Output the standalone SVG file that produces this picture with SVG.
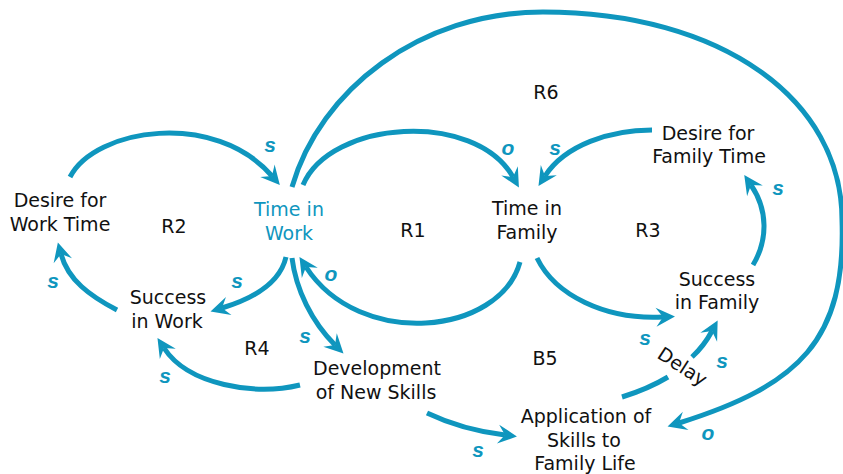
<svg xmlns="http://www.w3.org/2000/svg" width="843" height="474" viewBox="0 0 843 474">
  <style>
    .node text { font-family: "DejaVu Sans", "Liberation Sans", sans-serif; font-size: 19px; fill: #111; text-anchor: middle; }
    .node.accent text { fill: #0f96be; }
    .loop { font-family: "DejaVu Sans", "Liberation Sans", sans-serif; font-size: 19px; fill: #111; text-anchor: middle; }
    .pol { font-family: "Liberation Sans", "DejaVu Sans", sans-serif; font-size: 21px; font-weight: bold; font-style: italic; fill: #0f96be; text-anchor: middle; }
    .link { fill: none; stroke: #0f96be; stroke-width: 5; }
    .arrow { marker-end: url(#head); }
  </style>
  <defs>
    <!-- barbed arrowhead; reference point sits in the notch where the line stops -->
    <marker id="head" markerUnits="userSpaceOnUse" viewBox="-8 -10 22 20" markerWidth="22" markerHeight="20" refX="0" refY="0" orient="auto" overflow="visible">
      <path d="M12,0 L-7,-9.5 L0,0 L-7,9.5 Z" fill="#0f96be"/>
    </marker>
  </defs>
  <rect width="843" height="474" fill="#fff"/>

  <g id="connectors">
    <!-- R2 -->
    <path class="link arrow" d="M70,177 C95,128 215,110 272,176"/>
    <path class="link arrow" d="M117,310 C90,296 68,280 61,254"/>
    <path class="link arrow" d="M286,257 C280,283 255,298 222,308"/>
    <!-- R4 -->
    <path class="link arrow" d="M300,385 C255,396 188,385 164,348"/>
    <path class="link arrow" d="M292,258 C296,290 312,322 335,345"/>
    <!-- R1 -->
    <path class="link arrow" d="M520,262 C500,335 360,350 306,267"/>
    <path class="link arrow" d="M303,185 C330,120 475,110 513,177"/>
    <!-- R3 -->
    <path class="link arrow" d="M652,130 C610,130 565,145 545,176"/>
    <path class="link arrow" d="M753,265 C768,240 768,210 751,185"/>
    <path class="link arrow" d="M537,258 C555,295 605,320 663,317"/>
    <!-- B5, broken around the delay mark -->
    <path class="link" d="M622,397 Q648,389 668,377"/>
    <path class="link arrow" d="M692,357 Q704,346 712,331"/>
    <path class="link arrow" d="M427,413 C450,424 480,432 505,435"/>
    <!-- R6 -->
    <path class="link arrow" d="M292,187 C320,90 420,12 543,12 C722,12 842,100 842,220 C846,340 800,385 679,423"/>
  </g>

  <g id="polarities">
    <text class="pol" x="270" y="152">s</text>
    <text class="pol" x="53" y="288">s</text>
    <text class="pol" x="237" y="288">s</text>
    <text class="pol" x="331" y="281">o</text>
    <text class="pol" x="305" y="343">s</text>
    <text class="pol" x="165" y="383">s</text>
    <text class="pol" x="508" y="155">o</text>
    <text class="pol" x="555" y="155">s</text>
    <text class="pol" x="778" y="195">s</text>
    <text class="pol" x="645" y="345">s</text>
    <text class="pol" x="722" y="368">s</text>
    <text class="pol" x="708" y="440">o</text>
    <text class="pol" x="478" y="457">s</text>
  </g>

  <g id="delay">
    <text class="loop" x="682" y="373" transform="rotate(33 682 367)">Delay</text>
  </g>

  <g id="loops">
    <text class="loop" x="174" y="233">R2</text>
    <text class="loop" x="413" y="237">R1</text>
    <text class="loop" x="648" y="237">R3</text>
    <text class="loop" x="546" y="99">R6</text>
    <text class="loop" x="257" y="355">R4</text>
    <text class="loop" x="545" y="365">B5</text>
  </g>

  <g id="desire-work" class="node">
    <text x="60" y="207">Desire for</text>
    <text x="60" y="231">Work Time</text>
  </g>
  <g id="time-work" class="node accent">
    <text x="289" y="216">Time in</text>
    <text x="289" y="240">Work</text>
  </g>
  <g id="time-family" class="node">
    <text x="527" y="215">Time in</text>
    <text x="527" y="239">Family</text>
  </g>
  <g id="desire-family" class="node">
    <text x="708" y="140">Desire for</text>
    <text x="709" y="163">Family Time</text>
  </g>
  <g id="success-work" class="node">
    <text x="168" y="304">Success</text>
    <text x="167" y="328">in Work</text>
  </g>
  <g id="new-skills" class="node">
    <text x="377" y="375">Development</text>
    <text x="376" y="399">of New Skills</text>
  </g>
  <g id="success-family" class="node">
    <text x="717" y="286">Success</text>
    <text x="717" y="309">in Family</text>
  </g>
  <g id="application" class="node">
    <text x="586" y="423">Application of</text>
    <text x="584" y="447">Skills to</text>
    <text x="585" y="470">Family Life</text>
  </g>
</svg>
